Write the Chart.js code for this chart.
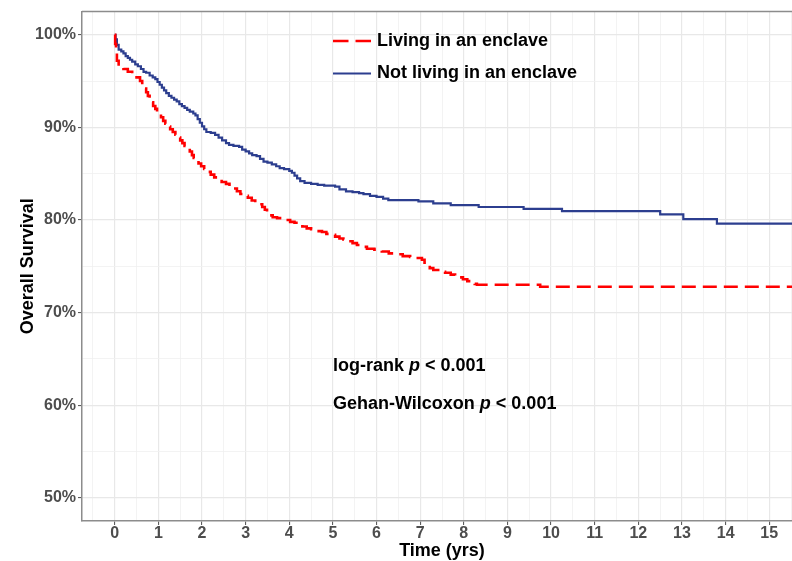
<!DOCTYPE html>
<html>
<head>
<meta charset="utf-8">
<script src="https://cdn.jsdelivr.net/npm/chart.js@4"></script>
<style>
  html, body { margin: 0; padding: 0; overflow: hidden; background: #fff; }
</style>
</head>
<body>
<canvas id="km-curve" width="802" height="561"></canvas>
<script>
// series labels
const groupLabels = ['Living in an enclave', 'Not living in an enclave'];

// Kaplan-Meier steps (time in years, survival in %)
const enclaveTime = [0, 0.01, 0.03, 0.05, 0.09, 0.2, 0.3, 0.4, 0.5, 0.58, 0.63, 0.68, 0.72, 0.76, 0.8, 0.84, 0.88, 0.93, 0.97, 1.01, 1.06, 1.11, 1.16, 1.21, 1.27, 1.33, 1.39, 1.45, 1.5, 1.55, 1.6, 1.66, 1.72, 1.77, 1.81, 1.86, 1.92, 1.98, 2.05, 2.12, 2.2, 2.28, 2.36, 2.45, 2.55, 2.63, 2.72, 2.8, 2.88, 2.96, 3.05, 3.14, 3.22, 3.3, 3.38, 3.44, 3.49, 3.55, 3.62, 3.72, 3.85, 4.02, 4.12, 4.22, 4.3, 4.4, 4.5, 4.63, 4.75, 4.85, 4.94, 5.05, 5.15, 5.24, 5.35, 5.45, 5.55, 5.65, 5.78, 5.95, 6.12, 6.28, 6.43, 6.6, 6.77, 6.9, 7.04, 7.1, 7.16, 7.22, 7.3, 7.45, 7.57, 7.7, 7.8, 7.88, 7.98, 8.08, 8.18, 8.25, 8.3, 9.75, 15.7];
const enclaveSurv = [100, 99.0, 98.0, 97.2, 96.6, 96.3, 96.0, 95.7, 95.4, 95.0, 94.6, 94.2, 93.8, 93.4, 93.0, 92.7, 92.3, 92.0, 91.7, 91.4, 91.1, 90.7, 90.4, 90.1, 89.8, 89.5, 89.2, 88.9, 88.6, 88.3, 88.0, 87.7, 87.4, 87.0, 86.7, 86.4, 86.1, 85.8, 85.5, 85.2, 84.9, 84.6, 84.4, 84.1, 83.9, 83.6, 83.4, 83.1, 82.8, 82.6, 82.4, 82.1, 81.9, 81.7, 81.4, 81.1, 80.8, 80.5, 80.3, 80.2, 80.0, 79.8, 79.7, 79.5, 79.3, 79.1, 79.0, 78.8, 78.7, 78.5, 78.4, 78.2, 78.0, 77.9, 77.7, 77.5, 77.3, 77.1, 76.9, 76.8, 76.6, 76.4, 76.3, 76.1, 76.0, 75.9, 75.7, 75.4, 75.1, 74.8, 74.6, 74.4, 74.3, 74.1, 73.9, 73.8, 73.6, 73.4, 73.3, 73.1, 73.0, 72.8, 72.8];

const notEnclaveTime = [0, 0.02, 0.05, 0.09, 0.15, 0.2, 0.25, 0.3, 0.35, 0.4, 0.47, 0.53, 0.6, 0.66, 0.72, 0.8, 0.87, 0.93, 0.98, 1.03, 1.08, 1.13, 1.18, 1.24, 1.3, 1.36, 1.42, 1.48, 1.54, 1.6, 1.66, 1.72, 1.8, 1.85, 1.9, 1.95, 2.0, 2.05, 2.1, 2.2, 2.3, 2.38, 2.46, 2.55, 2.62, 2.72, 2.85, 2.92, 3.0, 3.08, 3.15, 3.25, 3.33, 3.41, 3.5, 3.6, 3.7, 3.78, 3.88, 4.0, 4.06, 4.12, 4.18, 4.25, 4.35, 4.5, 4.65, 4.8, 5.05, 5.15, 5.3, 5.45, 5.6, 5.7, 5.85, 6.0, 6.15, 6.27, 6.96, 7.3, 7.7, 8.34, 9.37, 10.25, 12.5, 13.03, 13.8, 15.7];
const notEnclaveSurv = [100, 99.5, 98.9, 98.4, 98.2, 98.0, 97.7, 97.5, 97.3, 97.1, 96.8, 96.6, 96.3, 96.0, 95.9, 95.6, 95.4, 95.2, 94.9, 94.6, 94.3, 94.0, 93.7, 93.4, 93.2, 93.0, 92.8, 92.5, 92.3, 92.1, 91.9, 91.7, 91.5, 91.3, 90.9, 90.5, 90.1, 89.8, 89.5, 89.4, 89.2, 88.9, 88.6, 88.3, 88.1, 88.0, 87.9, 87.6, 87.4, 87.2, 87.0, 86.9, 86.6, 86.3, 86.2, 86.0, 85.8, 85.6, 85.5, 85.3, 85.1, 84.8, 84.5, 84.2, 84.0, 83.9, 83.8, 83.7, 83.6, 83.3, 83.1, 83.0, 82.9, 82.8, 82.6, 82.5, 82.3, 82.15, 82.0, 81.8, 81.6, 81.4, 81.2, 80.95, 80.6, 80.1, 79.6, 79.6];

// axis ticks
const xTickValues = [0, 1, 2, 3, 4, 5, 6, 7, 8, 9, 10, 11, 12, 13, 14, 15];
const yTickValues = [50, 60, 70, 80, 90, 100];

// test results written on the plot: [plain, italic, plain]
const testLines = [
    ['log-rank ', 'p', ' < 0.001'],
    ['Gehan-Wilcoxon ', 'p', ' < 0.001']
];

const FONT = "'Liberation Sans', Arial, sans-serif";
const RED = '#ff0000';
const BLUE = '#2c3e8f';
const GRID_MAJOR = '#e8e8e8';
const GRID_MINOR = '#f0f0f0';
const FRAME = '#8c8c8c';

Chart.defaults.font.family = FONT;

// major ticks plus the half-way minor ones (like ggplot's minor grid)
function withMinor(values, step) {
    let out = [values[0] - step / 2];
    values.forEach((v) => { out.push(v); out.push(v + step / 2); });
    return out;
}

const toPoints = (ts, ss) => ts.map((t, i) => ({ x: t, y: ss[i] }));

const overlay = {
    id: 'overlay',
    afterDraw(chart) {
        const { ctx, chartArea } = chart;
        ctx.save();

        // top panel border
        ctx.strokeStyle = FRAME;
        ctx.lineWidth = 1.5;
        ctx.beginPath();
        ctx.moveTo(chartArea.left, chartArea.top);
        ctx.lineTo(chartArea.right, chartArea.top);
        ctx.stroke();

        // legend inside the panel
        const legendY = [41, 73.5];
        chart.data.datasets.forEach((ds, i) => {
            ctx.strokeStyle = ds.borderColor;
            ctx.lineWidth = ds.borderWidth;
            ctx.setLineDash(ds.borderDash ? [15.5, 7] : []);
            ctx.beginPath();
            ctx.moveTo(333, legendY[i]);
            ctx.lineTo(371, legendY[i]);
            ctx.stroke();
            ctx.setLineDash([]);
            ctx.fillStyle = '#000';
            ctx.font = 'bold 18px ' + FONT;
            ctx.textBaseline = 'middle';
            ctx.textAlign = 'left';
            ctx.fillText(ds.label, 377, legendY[i]);
        });

        // test annotations
        const textY = [366, 404];
        testLines.forEach((parts, i) => {
            let x = 333;
            parts.forEach((part, j) => {
                ctx.font = (j === 1 ? 'italic bold 18px ' : 'bold 18px ') + FONT;
                ctx.fillStyle = '#000';
                ctx.textBaseline = 'middle';
                ctx.fillText(part, x, textY[i]);
                x += ctx.measureText(part).width;
            });
        });

        ctx.restore();
    }
};

const ctx = document.getElementById('km-curve').getContext('2d');
window.kmChart = new Chart(ctx, {
    type: 'line',
    data: {
        datasets: [
            {
                label: groupLabels[0],
                data: toPoints(enclaveTime, enclaveSurv),
                borderColor: RED,
                borderWidth: 2.6,
                borderDash: [14, 7],
                stepped: true,
                pointRadius: 0,
                fill: false
            },
            {
                label: groupLabels[1],
                data: toPoints(notEnclaveTime, notEnclaveSurv),
                borderColor: BLUE,
                borderWidth: 2.2,
                stepped: true,
                pointRadius: 0,
                fill: false
            }
        ]
    },
    options: {
        responsive: false,
        animation: false,
        layout: { padding: { top: 10, left: 0, right: 0, bottom: 0 } },
        plugins: {
            legend: { display: false },
            tooltip: { enabled: false }
        },
        scales: {
            x: {
                type: 'linear',
                min: -0.75,
                max: 15.75,
                afterBuildTicks: (scale) => {
                    scale.ticks = withMinor(xTickValues, 1).map((v) => ({ value: v }));
                },
                afterFit: (scale) => { scale.height = 40; },
                ticks: {
                    autoSkip: false,
                    maxRotation: 0,
                    padding: 1,
                    color: '#4d4d4d',
                    font: { size: 16, weight: 'bold', lineHeight: 1 },
                    callback: (v) => xTickValues.includes(v) ? String(v) : ''
                },
                grid: {
                    color: (c) => xTickValues.includes(c.tick.value) ? GRID_MAJOR : GRID_MINOR,
                    lineWidth: (c) => xTickValues.includes(c.tick.value) ? 1.2 : 0.8,
                    tickColor: (c) => xTickValues.includes(c.tick.value) ? '#4d4d4d' : 'rgba(0,0,0,0)',
                    tickLength: 4,
                    tickWidth: 1
                },
                border: { display: true, color: FRAME, width: 1.5 },
                title: {
                    display: true,
                    text: 'Time (yrs)',
                    color: '#000',
                    font: { size: 18, weight: 'bold', lineHeight: 1.1 },
                    padding: { top: 0, bottom: 0 }
                }
            },
            y: {
                type: 'linear',
                min: 47.5,
                max: 102.5,
                afterBuildTicks: (scale) => {
                    scale.ticks = withMinor(yTickValues, 10).filter((v) => v >= 50 && v <= 100).map((v) => ({ value: v }));
                },
                afterFit: (scale) => { scale.width = 82; },
                ticks: {
                    autoSkip: false,
                    padding: 2,
                    color: '#4d4d4d',
                    font: { size: 16, weight: 'bold' },
                    callback: (v) => yTickValues.includes(v) ? v + '%' : ''
                },
                grid: {
                    color: (c) => yTickValues.includes(c.tick.value) ? GRID_MAJOR : GRID_MINOR,
                    lineWidth: (c) => yTickValues.includes(c.tick.value) ? 1.2 : 0.8,
                    tickColor: (c) => yTickValues.includes(c.tick.value) ? '#4d4d4d' : 'rgba(0,0,0,0)',
                    tickLength: 4,
                    tickWidth: 1
                },
                border: { display: true, color: FRAME, width: 1.5 },
                title: {
                    display: true,
                    text: 'Overall Survival',
                    color: '#000',
                    font: { size: 18, weight: 'bold' },
                    padding: { top: 17, bottom: 0 }
                }
            }
        }
    },
    plugins: [overlay]
});
</script>
</body>
</html>
